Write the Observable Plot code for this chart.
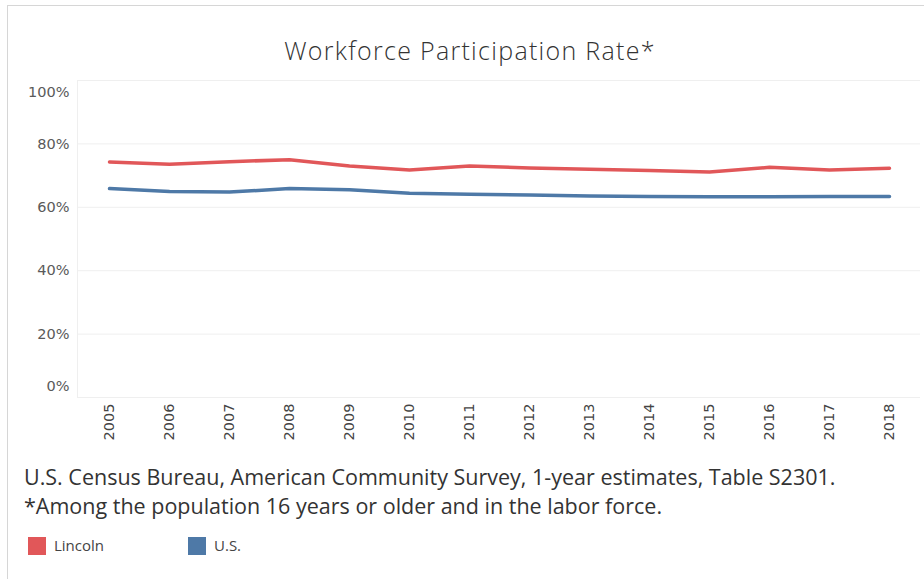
<!DOCTYPE html>
<html>
<head>
<meta charset="utf-8">
<script src="https://cdn.jsdelivr.net/npm/d3@7"></script>
<script src="https://cdn.jsdelivr.net/npm/@observablehq/plot@0.6"></script>
<style>
  html, body { margin: 0; padding: 0; background: #fff; width: 924px; height: 579px; overflow: hidden; }
  #frame { position: absolute; left: 7px; top: 5px; width: 940px; height: 600px; border-left: 1px solid #d6d6d6; border-top: 1px solid #d6d6d6; }
  #title { position: absolute; left: 0; width: 940px; top: 33px; text-align: center; font-family: "Open Sans", sans-serif; font-weight: 300; font-size: 25px; letter-spacing: 1.3px; line-height: normal; color: #333; }
  #chart { position: absolute; left: 0; top: 70px; }
  .cap { position: absolute; left: 24px; font-family: "Open Sans", sans-serif; font-size: 21.5px; line-height: normal; color: #333; white-space: nowrap; }
  #legend { position: absolute; left: 28px; top: 537px; font-family: "Open Sans", sans-serif; font-size: 15px; color: #444; }
  .sw { position: absolute; top: 0; width: 18px; height: 18px; }
  .lb { position: absolute; top: -2px; line-height: 20px; white-space: nowrap; }
</style>
</head>
<body>
<div id="frame"></div>
<div id="title">Workforce Participation Rate*</div>
<div id="chart"></div>
<div class="cap" style="top:462px">U.S. Census Bureau, American Community Survey, 1-year estimates, Table S2301.</div>
<div class="cap" style="top:491px">*Among the population 16 years or older and in the labor force.</div>
<div id="legend"></div>
<script>
const years = ["2005","2006","2007","2008","2009","2010","2011","2012","2013","2014","2015","2016","2017","2018"];
const lincoln = [74.3, 73.6, 74.4, 75.0, 73.0, 71.8, 73.0, 72.4, 72.0, 71.6, 71.1, 72.6, 71.8, 72.3];
const us = [65.9, 65.0, 64.8, 65.9, 65.5, 64.4, 64.1, 63.9, 63.6, 63.4, 63.3, 63.3, 63.4, 63.4];
const seriesNames = ["Lincoln", "U.S."];
const seriesColors = ["#e15759", "#4e79a7"];
const yTicks = [0, 20, 40, 60, 80, 100];

const rows = [];
years.forEach((y, i) => {
  rows.push({year: y, value: lincoln[i], series: seriesNames[0]});
  rows.push({year: y, value: us[i], series: seriesNames[1]});
});

const fmt = d => d + "%";
const axFont = "'DejaVu Sans', sans-serif";
const yOpts = {tickSize: 0, tickPadding: 8, tickFormat: fmt, label: null, fontSize: 14.5, fill: "#5a5a5a", fontFamily: axFont};

const plot = Plot.plot({
  width: 924,
  height: 380,
  marginLeft: 77,
  marginRight: 4,
  marginTop: 10,
  marginBottom: 53,
  style: {background: "transparent", overflow: "visible"},
  x: {type: "point", domain: years, padding: 0.5},
  y: {domain: [0, 100]},
  color: {domain: seriesNames, range: seriesColors},
  marks: [
    Plot.gridY(yTicks, {stroke: "#efefef", strokeOpacity: 1, strokeWidth: 1}),
    Plot.frame({anchor: "left", stroke: "#efefef", strokeOpacity: 1}),
    Plot.axisY(yTicks.filter(d => d > 0 && d < 100), yOpts),
    Plot.axisY([100], {...yOpts, dy: 11.5}),
    Plot.axisY([0], {...yOpts, dy: -11.5}),
    Plot.axisX(years, {tickSize: 0, tickPadding: 6, tickRotate: -90, label: null, fontSize: 14.5, fill: "#444", fontFamily: axFont}),
    Plot.line(rows, {x: "year", y: "value", z: "series", stroke: "series", strokeWidth: 3.5, curve: "linear"})
  ]
});
document.getElementById("chart").appendChild(plot);

const legend = document.getElementById("legend");
const legendX = [0, 160];
seriesNames.forEach((name, i) => {
  const sw = document.createElement("div");
  sw.className = "sw";
  sw.style.left = legendX[i] + "px";
  sw.style.background = seriesColors[i];
  legend.appendChild(sw);
  const lb = document.createElement("div");
  lb.className = "lb";
  lb.style.left = (legendX[i] + 26) + "px";
  lb.textContent = name;
  legend.appendChild(lb);
});
</script>
</body>
</html>
